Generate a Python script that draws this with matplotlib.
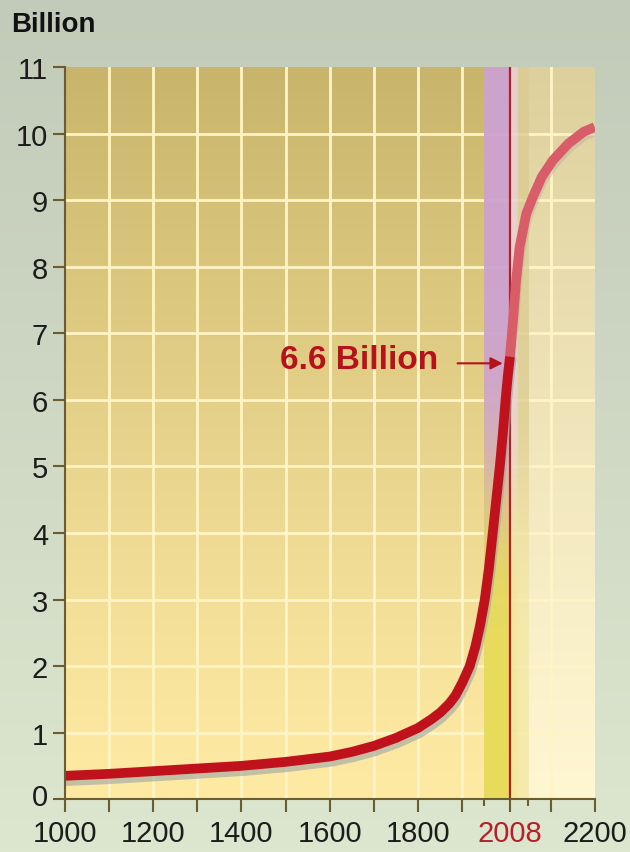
import numpy as np
import matplotlib.pyplot as plt
from matplotlib.colors import to_rgb
from matplotlib.transforms import ScaledTranslation

plt.rcParams['font.family'] = ['Liberation Sans', 'DejaVu Sans']

# world population, billions
years = [1000, 1100, 1200, 1300, 1400, 1500, 1600, 1650, 1700, 1750, 1800,
         1830, 1850, 1870, 1885, 1900, 1917, 1930, 1940, 1951, 1960, 1969,
         1977, 1985, 1992, 1998, 2003, 2008]
population = [0.35, 0.38, 0.42, 0.46, 0.5, 0.56, 0.64, 0.71, 0.8, 0.92, 1.07,
              1.2, 1.3, 1.43, 1.56, 1.75, 2.0, 2.3, 2.6, 3.0, 3.45, 4.0,
              4.5, 5.0, 5.5, 6.0, 6.35, 6.65]
proj_years = [2008, 2015, 2022, 2030, 2045, 2060, 2080, 2105, 2140, 2175, 2200]
proj_population = [6.65, 7.2, 7.8, 8.3, 8.8, 9.05, 9.35, 9.6, 9.85, 10.03, 10.1]

now_year = 2008
now_label = '6.6 Billion'
x_labels = {1000: '1000', 1200: '1200', 1400: '1400', 1600: '1600',
            1800: '1800', 2008: '2008', 2200: '2200'}

fig = plt.figure(figsize=(6.3, 8.53), dpi=100)

# figure background gradient
bg = fig.add_axes([0, 0, 1, 1], zorder=-10)
t = np.linspace(0, 1, 256)[:, None, None]
c0, c1 = np.array(to_rgb('#c2cab9')), np.array(to_rgb('#dde7cf'))
bg.imshow(c0 + (c1 - c0) * t, aspect='auto', extent=[0, 1, 0, 1])
bg.axis('off')

ax = fig.add_axes([0.103, 0.062, 0.841, 0.858])
ax.set_xlim(1000, 2200)
ax.set_ylim(0, 11)


def column_colors(x):
    if x < 2050:
        return '#c8b46a', '#ffeaa4'
    return '#ddd09c', '#fff6d2'


# base plot-area gradient
xs = np.linspace(1000, 2200, 1200)
ys = np.linspace(1, 0, 440)[:, None]
img = np.zeros((440, 1200, 3))
for i, x in enumerate(xs):
    top, bot = column_colors(x)
    top, bot = np.array(to_rgb(top)), np.array(to_rgb(bot))
    w = ys ** 1.2
    img[:, i, :] = bot + (top - bot) * w
ax.imshow(img, aspect='auto', extent=[1000, 2200, 0, 11], zorder=0)

# grid
for gx in range(1100, 2200, 100):
    if gx != 2000:
        ax.axvline(gx, color='#fff4c6', lw=2, zorder=1)
for gy in range(1, 11):
    ax.axhline(gy, color='#fff4c6', lw=2, zorder=1)

# bands around today
band = np.zeros((440, 100, 4))
bx = np.linspace(1950, 2050, 100)
s = 1 / (1 + np.exp(-(ys[:, 0] * 11 - 4.6) / 0.6))
for i, x in enumerate(bx):
    if x < now_year:
        top, bot, a = '#cda2d2', '#e8dc58', 0.95
    elif x < 2025:
        top, bot, a = '#e8d3d8', '#f3e99c', 0.9
    else:
        top, bot, a = '#dfd09c', '#f6ebb0', 0.85
    top, bot = np.array(to_rgb(top)), np.array(to_rgb(bot))
    band[:, i, :3] = bot + (top - bot) * s[:, None]
    band[:, i, 3] = a
ax.imshow(band, aspect='auto', extent=[1950, 2050, 0, 11], zorder=2)

ax.axvline(now_year, color='#b0202a', lw=1.6, zorder=3)

# curve with shadow
ax.plot(np.array(years) + 3, np.array(population) - 0.08, color='#9aa6a6',
        lw=7, alpha=0.6, solid_joinstyle='round', zorder=4)
ax.plot(np.array(proj_years) + 2, np.array(proj_population) - 0.06,
        color='#b9a9a0', lw=7, alpha=0.4, solid_joinstyle='round', zorder=4)
ax.plot(proj_years, proj_population, color='#d95d68', lw=7,
        solid_capstyle='butt', solid_joinstyle='round', zorder=5)
ax.plot(years, population, color='#c0121c', lw=7,
        solid_capstyle='butt', solid_joinstyle='round', zorder=6)

ax.text(1666, 6.6, now_label, color='#b5121b', fontsize=24, weight='bold',
        ha='center', va='center', zorder=7)
ax.annotate('', xy=(1998, 6.55), xytext=(1883, 6.55),
            arrowprops=dict(arrowstyle='-|>', color='#b5121b', lw=1.5,
                            mutation_scale=18), zorder=7)

# axes styling
for side in ['top', 'right']:
    ax.spines[side].set_visible(False)
for side in ['left', 'bottom']:
    ax.spines[side].set_color('#6b5d2e')
    ax.spines[side].set_linewidth(1.5)
    ax.spines[side].set_zorder(8)

major = [y for y in range(1000, 2201, 100) if y != 2000] + [now_year]
major.sort()
ax.set_xticks(major)
ax.set_xticklabels([x_labels.get(m, '') for m in major])
ax.set_xticks([1950, 2050], minor=True)
ax.set_yticks(range(0, 12))
ax.tick_params(axis='both', which='major', direction='out', length=9,
               width=1.5, color='#6b5d2e', labelsize=21, labelcolor='#1c1c1c')
ax.tick_params(axis='y', which='major', pad=3)
ax.tick_params(axis='x', which='major', pad=5)
ax.tick_params(axis='x', which='minor', direction='out', length=5,
               width=1.5, color='#6b5d2e')
for lab in ax.get_xticklabels():
    if lab.get_text() == '2008':
        lab.set_color('#b5202a')
zero_shift = ScaledTranslation(0, 4 / 72, fig.dpi_scale_trans)
for lab in ax.get_yticklabels():
    if lab.get_text() == '0':
        lab.set_transform(lab.get_transform() + zero_shift)

fig.text(0.018, 0.971, 'Billion', fontsize=20, weight='bold', color='#111111',
         ha='left', va='center')

fig.savefig('out.png', dpi=100)
